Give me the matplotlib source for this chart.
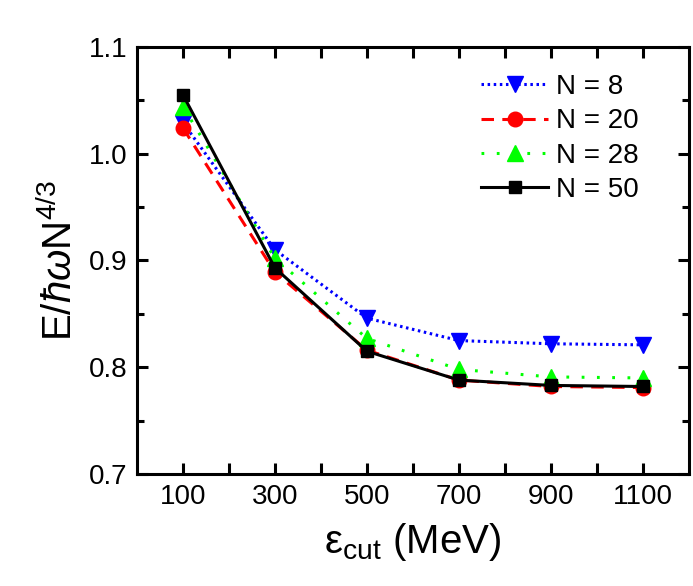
import numpy as np
import matplotlib
matplotlib.use('Agg')
import matplotlib.pyplot as plt

plt.rcParams['font.family'] = ['Liberation Sans', 'DejaVu Sans']
plt.rcParams['mathtext.fontset'] = 'custom'
plt.rcParams['mathtext.rm'] = 'Liberation Sans'
plt.rcParams['mathtext.it'] = 'Liberation Sans:italic'
plt.rcParams['mathtext.fallback'] = 'stixsans'
plt.rcParams['lines.scale_dashes'] = False

ecut = [100, 300, 500, 700, 900, 1100]
n8 = [1.029, 0.910, 0.846, 0.825, 0.822, 0.821]
n20 = [1.024, 0.889, 0.816, 0.788, 0.782, 0.781]
n28 = [1.044, 0.902, 0.827, 0.798, 0.791, 0.790]
n50 = [1.055, 0.893, 0.815, 0.788, 0.783, 0.782]

fig = plt.figure(figsize=(6.93, 5.86), dpi=100)
ax = fig.add_axes([0.1977, 0.191, 0.7963, 0.729])

ax.plot(ecut, n8, color='#0000ff', ls=(0, (1.8, 2.6)), lw=2.2, marker='v', ms=12, label='N = 8')
ax.plot(ecut, n20, color='#ff0000', ls=(0, (9, 6)), lw=2.2, marker='o', ms=10.5, label='N = 20')
ax.plot(ecut, n28, color='#00ff00', ls=(0, (2, 9)), lw=2.2, marker='^', ms=12, label='N = 28')
ax.plot(ecut, n50, color='black', ls='-', lw=2.2, marker='s', ms=8.5, label='N = 50')

ax.set_xlim(0, 1200)
ax.set_ylim(0.7, 1.1)
ax.set_xticks(ecut)
ax.set_xticks([200, 400, 600, 800, 1000], minor=True)
ax.set_yticks([0.7, 0.8, 0.9, 1.0, 1.1])
ax.set_yticks([0.75, 0.85, 0.95, 1.05], minor=True)
ax.tick_params(which='both', direction='in', top=True, right=True, width=2.2, labelsize=20, pad=7)
ax.tick_params(which='major', length=8)
ax.tick_params(axis='x', which='minor', length=8)
ax.tick_params(axis='y', which='minor', length=5)
for s in ax.spines.values():
    s.set_linewidth(2.2)

ax.set_xlabel('ε$_{\\mathrm{cut}}$ (MeV)', fontsize=29, labelpad=8)
ax.set_ylabel(r'E/$\hbar\omega$N$^{4/3}$', fontsize=29, labelpad=6)

ax.legend(loc='upper right', frameon=False, fontsize=20, handlelength=2.4,
          handletextpad=0.3, labelspacing=0.3, bbox_to_anchor=(0.955, 0.995))

fig.savefig('out.png', dpi=100)
